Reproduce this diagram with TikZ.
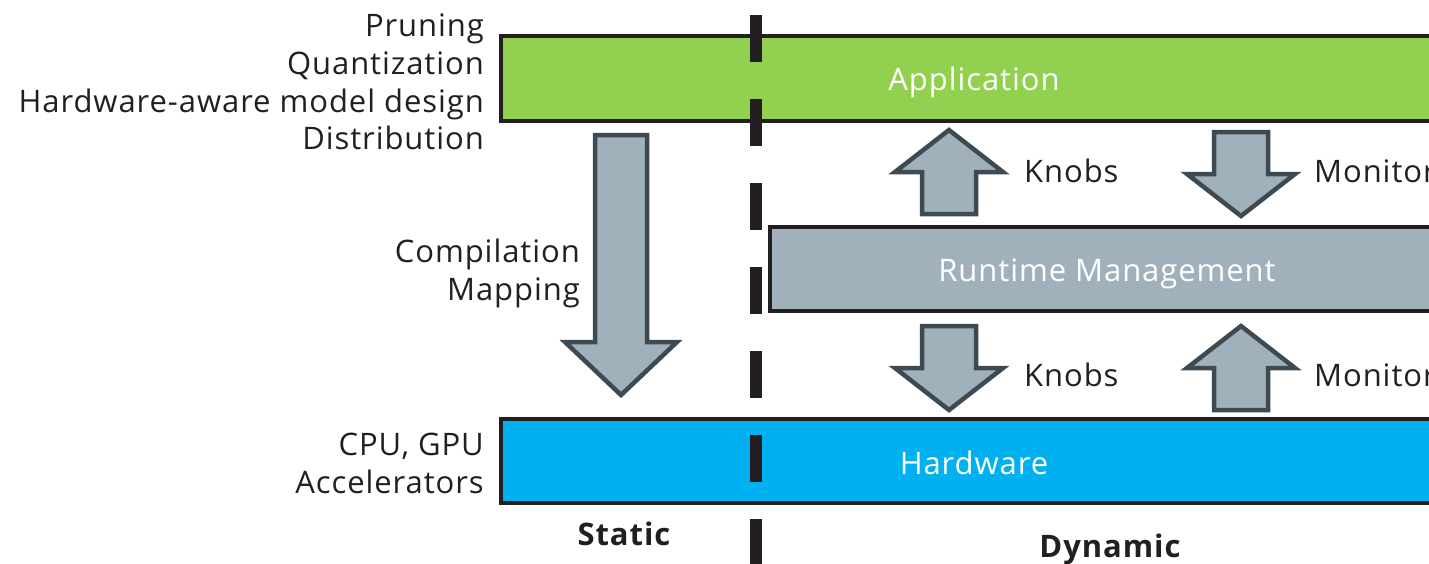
\documentclass[tikz,border=0pt]{standalone}
\usepackage{fontspec}
\setmainfont[LetterSpace=3]{Open Sans}
\definecolor{appgreen}{HTML}{92D050}
\definecolor{hwblue}{HTML}{00B0F0}
\definecolor{rtgray}{HTML}{A1B1BC}
\definecolor{arrowedge}{HTML}{3D4A51}
\definecolor{ink}{HTML}{231F20}
\begin{document}
\begin{tikzpicture}[x=1pt,y=-1pt,
  layerbox/.style={draw=ink,line width=4.5pt},
  fatarrow/.style={draw=arrowedge,fill=rtgray,line width=4.5pt,line join=miter},
  txt/.style={inner sep=0pt,text=ink,font=\fontsize{31}{37}\selectfont},
  boxtxt/.style={inner sep=0pt,text=white,font=\fontsize{31}{37}\selectfont},
  boldtxt/.style={inner sep=0pt,text=ink,font=\fontsize{31}{37}\selectfont\bfseries}]
\useasboundingbox (0,0) rectangle (1429,563);
\clip (0,0) rectangle (1429,563);
% layers
\path[layerbox,fill=appgreen] (501,36) rectangle (1480,121);
\path[layerbox,fill=rtgray] (770,227) rectangle (1480,311);
\path[layerbox,fill=hwblue] (501,419) rectangle (1480,503);
% static/dynamic divider
\draw[ink,line width=12pt,dash pattern=on 47pt off 37pt] (756,15) -- (756,580);
% big compile arrow
\path[fatarrow] (595,135) -- (647,135) -- (647,342) -- (677,342) -- (621,395) -- (565,342) -- (595,342) -- cycle;
% upper knobs (up)
\path[fatarrow] (922,214) -- (976,214) -- (976,172) -- (1003,172) -- (949,130) -- (895,172) -- (922,172) -- cycle;
% upper monitor (down)
\path[fatarrow] (1214,132) -- (1268,132) -- (1268,174) -- (1295,174) -- (1241,216) -- (1187,174) -- (1214,174) -- cycle;
% lower knobs (down)
\path[fatarrow] (922,326) -- (976,326) -- (976,368) -- (1003,368) -- (949,410) -- (895,368) -- (922,368) -- cycle;
% lower monitor (up)
\path[fatarrow] (1214,410) -- (1268,410) -- (1268,368) -- (1295,368) -- (1241,326) -- (1187,368) -- (1214,368) -- cycle;
% box labels
\node[boxtxt,anchor=base] (app) at (974,90) {Application};
\node[boxtxt,anchor=base] (rt) at (1107,281) {Runtime Management};
\node[boxtxt,anchor=base] (hw) at (974,474) {Hardware};
% left labels
\node[txt,anchor=base east] (l1) at (484,36) {Pruning};
\node[txt,anchor=base east] (l2) at (484,74) {Quantization};
\node[txt,anchor=base east] (l3) at (484,112) {Hardware-aware model design};
\node[txt,anchor=base east] (l4) at (484,149) {Distribution};
\node[txt,anchor=base east] (c1) at (580,262) {Compilation};
\node[txt,anchor=base east] (c2) at (580,300) {Mapping};
\node[txt,anchor=base east] (h1) at (484,455) {CPU, GPU};
\node[txt,anchor=base east] (h2) at (484,493) {Accelerators};
% knobs / monitor
\node[txt,anchor=base west] (k1) at (1024,182) {Knobs};
\node[txt,anchor=base west] (m1) at (1314,182) {Monitor};
\node[txt,anchor=base west] (k2) at (1024,386) {Knobs};
\node[txt,anchor=base west] (m2) at (1314,386) {Monitor};
% bottom labels
\node[boldtxt,anchor=base] (st) at (624,545) {Static};
\node[boldtxt,anchor=base] (dy) at (1110,557) {Dynamic};
\end{tikzpicture}
\end{document}
